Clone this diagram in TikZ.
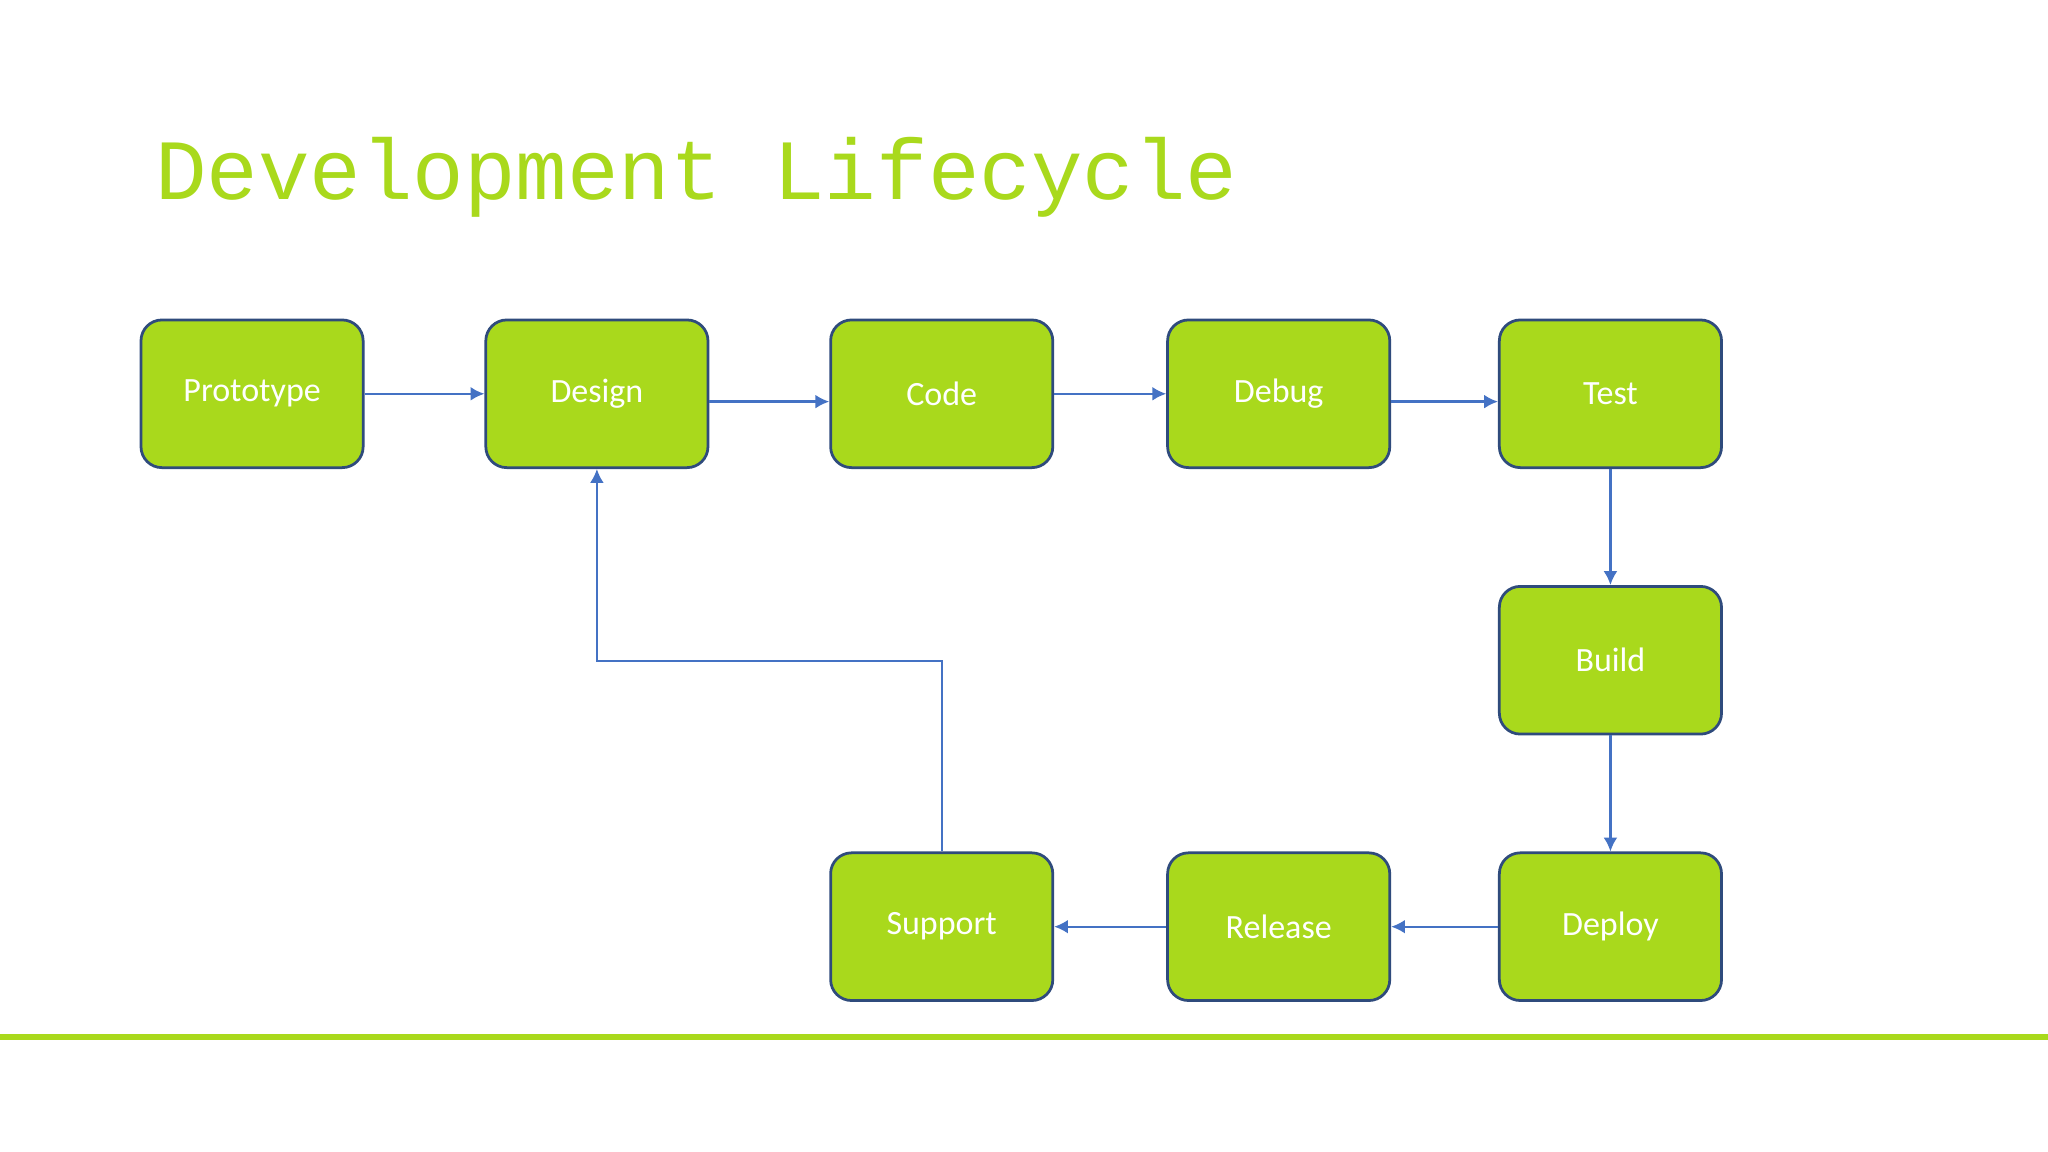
\documentclass[tikz,border=0pt]{standalone}
\usepackage{fontspec}
\setmainfont{Carlito}
\newfontfamily\titlefont{Liberation Mono}
\usetikzlibrary{arrows.meta,positioning}
\definecolor{lime}{HTML}{A9D91C}
\definecolor{edgeblue}{HTML}{2F4B7C}
\definecolor{arrowblue}{HTML}{4472C4}
\begin{document}
\begin{tikzpicture}
  [x=0.01cm,y=-0.01cm,
   stage/.style={draw=edgeblue,fill=lime,rounded corners=0.16cm,line width=0.6pt,
                minimum width=1.70cm,minimum height=1.13cm,text=white,
                font=\fontsize{7.4}{9}\selectfont},
   flow/.style={draw=arrowblue,line width=0.5pt,-{Latex[length=3pt,width=3pt]}}]

  \useasboundingbox (0,0) rectangle (1568,882);
  \fill[white] (0,0) rectangle (1568,882);

  \node[anchor=base west,text=lime,inner sep=0,font=\titlefont\fontsize{18.7}{20}\selectfont]
       (title) at (118,153) {Development Lifecycle};

  \node[stage] (proto)   at (193,301.5)  {Prototype};
  \node[stage] (design)  at (457,301.5)  {Design};
  \node[stage] (code)    at (721,301.5)  {Code};
  \node[stage] (debug)   at (979,301.5)  {Debug};
  \node[stage] (test)    at (1233,301.5) {Test};
  \node[stage] (build)   at (1233,505.5) {Build};
  \node[stage] (deploy)  at (1233,709.5) {Deploy};
  \node[stage] (release) at (979,709.5)  {Release};
  \node[stage] (support) at (721,709.5)  {Support};

  \coordinate (lineL) at (0,794);
  \coordinate (lineR) at (1568,794);
  \draw[lime,line width=1.2pt] (lineL) -- (lineR);

  \draw[flow] (proto.east)   -- (design.west);
  \draw[flow] ([yshift=-0.06cm]design.east) -- ([yshift=-0.06cm]code.west);
  \draw[flow] (code.east)    -- (debug.west);
  \draw[flow] ([yshift=-0.06cm]debug.east) -- ([yshift=-0.06cm]test.west);
  \draw[flow] (test.south)   -- (build.north);
  \draw[flow] (build.south)  -- (deploy.north);
  \draw[flow] (deploy.west)  -- (release.east);
  \draw[flow] (release.west) -- (support.east);
  \draw[flow] (support.north) |- (589,506) -| (design.south);
\end{tikzpicture}
\end{document}
